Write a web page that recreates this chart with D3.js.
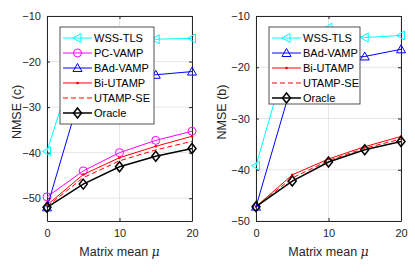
<!DOCTYPE html>
<html>
<head>
<meta charset="utf-8">
<script src="https://cdn.jsdelivr.net/npm/d3@7"></script>
<style>
  body { margin: 0; background: #fff; }
  svg { font-family: "Liberation Sans", Arial, sans-serif; }
</style>
</head>
<body>
<div id="chart"></div>
<script>
// x values shared by both panels
const mu = [0, 5, 10, 15, 20];

// panel (c)
const wssC = [-39.7, -14.6, -15.0, -15.1, -14.9];
const pcC = [-49.7, -44.0, -40.0, -37.3, -35.3];
const badC = [-52.0, -25.0, -23.5, -22.9, -22.2];
const biC = [-51.5, -44.8, -41.1, -38.6, -36.4];
const seC = [-51.8, -45.5, -41.8, -39.4, -37.5];
const oracleC = [-52.0, -46.9, -43.1, -40.8, -39.1];

// panel (b)
const wssB = [-39.2, -14.6, -12.3, -14.2, -13.8];
const badB = [-47.2, -23.0, -18.5, -17.9, -16.5];
const biB = [-47.2, -41.0, -37.9, -35.5, -33.5];
const seB = [-47.2, -41.6, -38.2, -35.8, -34.0];
const oracleB = [-47.2, -42.2, -38.5, -36.1, -34.5];

const xTicks = [0, 10, 20];

const styles = {
    'WSS-TLS': {color: '#00ffff', marker: 'tri-left', width: 1},
    'PC-VAMP': {color: '#ff00ff', marker: 'circle', width: 1},
    'BAd-VAMP': {color: '#0000ff', marker: 'tri-up', width: 1},
    'Bi-UTAMP': {color: '#ff0000', marker: 'dot', width: 1},
    'UTAMP-SE': {color: '#ff0000', marker: null, width: 1, dash: '5,3'},
    'Oracle': {color: '#000000', marker: 'diamond', width: 1.5}
};

const panels = [
    {
        left: 47, right: 192, top: 16, bottom: 221,
        yDomain: [-55, -10], yTicks: [-50, -40, -30, -20, -10],
        ylabel: 'NMSE (c)', ylabelX: 21,
        series: [['WSS-TLS', wssC], ['PC-VAMP', pcC], ['BAd-VAMP', badC],
                 ['Bi-UTAMP', biC], ['UTAMP-SE', seC], ['Oracle', oracleC]],
        legend: {x: 60, y: 27, w: 94, h: 97}
    },
    {
        left: 256, right: 401, top: 16, bottom: 221,
        yDomain: [-50, -10], yTicks: [-50, -40, -30, -20, -10],
        ylabel: 'NMSE (b)', ylabelX: 226,
        series: [['WSS-TLS', wssB], ['BAd-VAMP', badB],
                 ['Bi-UTAMP', biB], ['UTAMP-SE', seB], ['Oracle', oracleB]],
        legend: {x: 269, y: 27, w: 91, h: 77}
    }
];

const svg = d3.select('#chart').append('svg')
    .attr('width', 415)
    .attr('height', 272);

const axisColor = '#262626';

function drawMarker(g, type, x, y, color) {
    if (type === 'circle') {
        g.append('circle').attr('cx', x).attr('cy', y).attr('r', 4)
            .attr('fill', 'none').attr('stroke', color).attr('stroke-width', 1);
    } else if (type === 'tri-up') {
        g.append('path').attr('d', `M${x},${y - 4.5}L${x + 4.5},${y + 3.5}L${x - 4.5},${y + 3.5}Z`)
            .attr('fill', 'none').attr('stroke', color).attr('stroke-width', 1);
    } else if (type === 'tri-left') {
        g.append('path').attr('d', `M${x - 4.5},${y}L${x + 3.5},${y - 4.5}L${x + 3.5},${y + 4.5}Z`)
            .attr('fill', 'none').attr('stroke', color).attr('stroke-width', 1);
    } else if (type === 'diamond') {
        g.append('path').attr('d', `M${x},${y - 5}L${x + 4},${y}L${x},${y + 5}L${x - 4},${y}Z`)
            .attr('fill', 'none').attr('stroke', color).attr('stroke-width', 1.5);
    } else if (type === 'dot') {
        g.append('circle').attr('cx', x).attr('cy', y).attr('r', 1.3).attr('fill', color);
    }
}

panels.forEach(p => {
    const x = d3.scaleLinear().domain([0, 20]).range([p.left, p.right]);
    const y = d3.scaleLinear().domain(p.yDomain).range([p.bottom, p.top]);
    const g = svg.append('g');

    // white plot area + grid
    g.append('rect').attr('x', p.left).attr('y', p.top)
        .attr('width', p.right - p.left).attr('height', p.bottom - p.top)
        .attr('fill', '#fff');
    g.selectAll('.gx').data(xTicks).join('line')
        .attr('x1', d => x(d)).attr('x2', d => x(d))
        .attr('y1', p.top).attr('y2', p.bottom)
        .attr('stroke', '#e6e6e6').attr('stroke-width', 1);
    g.selectAll('.gy').data(p.yTicks).join('line')
        .attr('y1', d => y(d)).attr('y2', d => y(d))
        .attr('x1', p.left).attr('x2', p.right)
        .attr('stroke', '#e6e6e6').attr('stroke-width', 1);

    // axes (inward ticks, box)
    const tk = 3;
    g.append('g').attr('transform', `translate(0,${p.bottom})`)
        .call(d3.axisBottom(x).tickValues(xTicks).tickSizeInner(-tk).tickSizeOuter(0).tickPadding(8))
        .call(a => a.select('.domain').attr('stroke', axisColor))
        .call(a => a.selectAll('line').attr('stroke', axisColor))
        .call(a => a.selectAll('text').attr('font-size', 11).attr('fill', axisColor)
            .attr('font-family', '"Liberation Sans", Arial, sans-serif'));
    g.append('g').attr('transform', `translate(0,${p.top})`)
        .call(d3.axisTop(x).tickValues(xTicks).tickSizeInner(-tk).tickSizeOuter(0).tickFormat(''))
        .call(a => a.select('.domain').attr('stroke', axisColor))
        .call(a => a.selectAll('line').attr('stroke', axisColor));
    g.append('g').attr('transform', `translate(${p.left},0)`)
        .call(d3.axisLeft(y).tickValues(p.yTicks).tickSizeInner(-tk).tickSizeOuter(0).tickPadding(6))
        .call(a => a.select('.domain').attr('stroke', axisColor))
        .call(a => a.selectAll('line').attr('stroke', axisColor))
        .call(a => a.selectAll('text').attr('font-size', 11).attr('fill', axisColor)
            .attr('font-family', '"Liberation Sans", Arial, sans-serif'));
    g.append('g').attr('transform', `translate(${p.right},0)`)
        .call(d3.axisRight(y).tickValues(p.yTicks).tickSizeInner(-tk).tickSizeOuter(0).tickFormat(''))
        .call(a => a.select('.domain').attr('stroke', axisColor))
        .call(a => a.selectAll('line').attr('stroke', axisColor));

    // labels
    g.append('text')
        .attr('transform', `translate(${p.ylabelX},112) rotate(-90)`)
        .attr('text-anchor', 'middle')
        .attr('font-size', 12.5).attr('fill', axisColor)
        .text(p.ylabel);
    const xl = g.append('text')
        .attr('x', (p.left + p.right) / 2).attr('y', 256)
        .attr('text-anchor', 'middle')
        .attr('font-size', 12.5).attr('fill', axisColor);
    xl.append('tspan').text('Matrix mean ');
    xl.append('tspan').attr('font-style', 'italic').attr('font-family', '"DejaVu Serif", serif').text('μ');

    // series
    const line = d3.line().x((d, i) => x(mu[i])).y(d => y(d));
    p.series.forEach(([name, vals]) => {
        const s = styles[name];
        g.append('path').datum(vals)
            .attr('d', line)
            .attr('fill', 'none')
            .attr('stroke', s.color)
            .attr('stroke-width', s.width)
            .attr('stroke-dasharray', s.dash || null);
        if (s.marker) vals.forEach((v, i) => drawMarker(g, s.marker, x(mu[i]), y(v), s.color));
    });

    // legend
    const L = p.legend;
    const lg = g.append('g');
    lg.append('rect').attr('x', L.x).attr('y', L.y).attr('width', L.w).attr('height', L.h)
        .attr('fill', '#fff').attr('stroke', axisColor).attr('stroke-width', 0.8);
    p.series.forEach(([name], i) => {
        const s = styles[name];
        const ry = L.y + 11 + i * 15;
        lg.append('line').attr('x1', L.x + 3).attr('x2', L.x + 32)
            .attr('y1', ry).attr('y2', ry)
            .attr('stroke', s.color).attr('stroke-width', s.width)
            .attr('stroke-dasharray', s.dash || null);
        if (s.marker) drawMarker(lg, s.marker, L.x + 17.5, ry, s.color);
        lg.append('text').attr('x', L.x + 34).attr('y', ry + 4)
            .attr('font-size', 11).attr('fill', '#000').text(name);
    });
});
</script>
</body>
</html>
